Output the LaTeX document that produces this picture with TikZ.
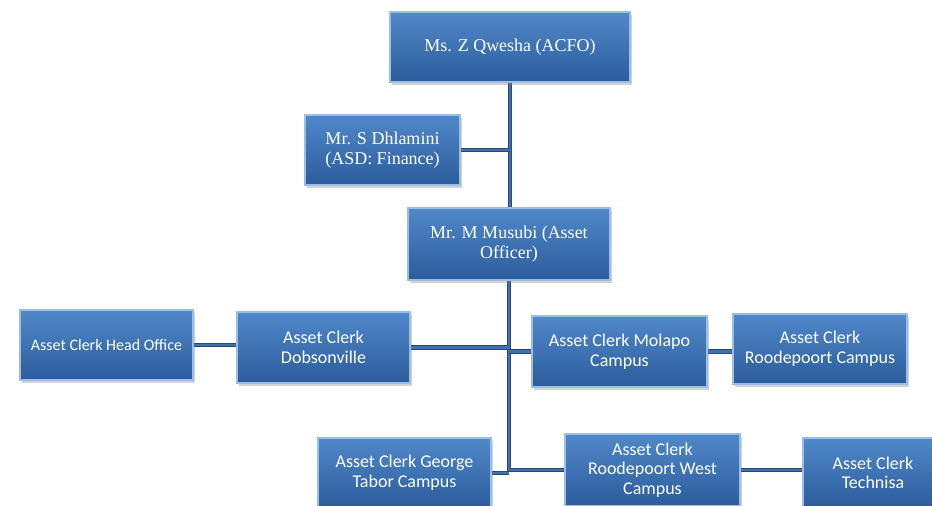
\documentclass[tikz,border=0pt]{standalone}
\usepackage{fontspec}
\setmainfont{Liberation Serif}
\newfontfamily\calib{Carlito}
\usetikzlibrary{shadows,backgrounds}
\definecolor{boxtop}{RGB}{80,136,202}
\definecolor{boxbot}{RGB}{44,92,155}
\definecolor{boxrim}{RGB}{155,190,228}
\definecolor{linkcol}{RGB}{66,112,172}
\definecolor{linkrim}{RGB}{38,72,122}
\tikzset{
  bx/.style={rectangle,top color=boxtop,bottom color=boxbot,draw=boxrim,line width=0.8pt,
    text=white,align=center,inner sep=2pt,
    drop shadow={shadow xshift=1.2pt,shadow yshift=-1.5pt,opacity=0.35}},
  sbx/.style={bx,font=\fontsize{9}{10}\selectfont},
  cbx/.style={bx,font=\calib\fontsize{9}{9.8}\selectfont},
  lk/.style={draw=linkrim,double=linkcol,double distance=1.2pt,line width=0.45pt}
}
\begin{document}
\begin{tikzpicture}[x=1pt,y=1pt]
  \useasboundingbox (0,0) rectangle (466,-253);
  % management
  \node[sbx,minimum width=120pt,minimum height=35pt] (acfo) at (255,-23.5){Ms. Z Qwesha (ACFO)};
  \node[sbx,minimum width=77.5pt,minimum height=35pt] (dhl) at (191.25,-75){Mr. S Dhlamini\\(ASD: Finance)};
  \node[sbx,minimum width=101pt,minimum height=36pt] (mus) at (254.5,-122){Mr. M Musubi (Asset\\Officer)};
  % clerks
  \node[cbx,minimum width=86.5pt,minimum height=35pt,font=\calib\fontsize{8}{9}\selectfont] (head) at (53.25,-172.5){Asset Clerk Head Office};
  \node[cbx,minimum width=86.5pt,minimum height=35.5pt] (dob) at (161.75,-173.75){Asset Clerk\\Dobsonville};
  \node[cbx,minimum width=87.5pt,minimum height=35.5pt] (mol) at (309.75,-175.75){Asset Clerk Molapo\\Campus};
  \node[cbx,minimum width=87pt,minimum height=35pt] (rood) at (410,-174.5){Asset Clerk\\Roodepoort Campus};
  \node[cbx,minimum width=86.5pt,minimum height=35pt] (geo) at (202.25,-236.5){Asset Clerk George\\Tabor Campus};
  \node[cbx,minimum width=87.5pt,minimum height=36pt] (rw) at (326.25,-235){Asset Clerk\\Roodepoort West\\Campus};
  \node[cbx,minimum width=70pt,minimum height=35pt] (tech) at (436.5,-236.5){Asset Clerk\\Technisa};
  \begin{scope}[on background layer]
    \draw[lk] (acfo.south) -- (acfo.south |- mus.north);
    \draw[lk] (dhl.east) -- (dhl.east -| acfo.south);
    \draw[lk] (mus.south) |- (rw.west);
    \foreach \n in {dob,geo}{\draw[lk] (\n.east) -- (\n.east -| mus.south);}
    \draw[lk] (mol.west) -- (mol.west -| mus.south);
    \foreach \a/\b in {head/dob,mol/rood,rw/tech}{\draw[lk] (\a.east) -- (\a.east -| \b.west);}
  \end{scope}
\end{tikzpicture}
\end{document}
